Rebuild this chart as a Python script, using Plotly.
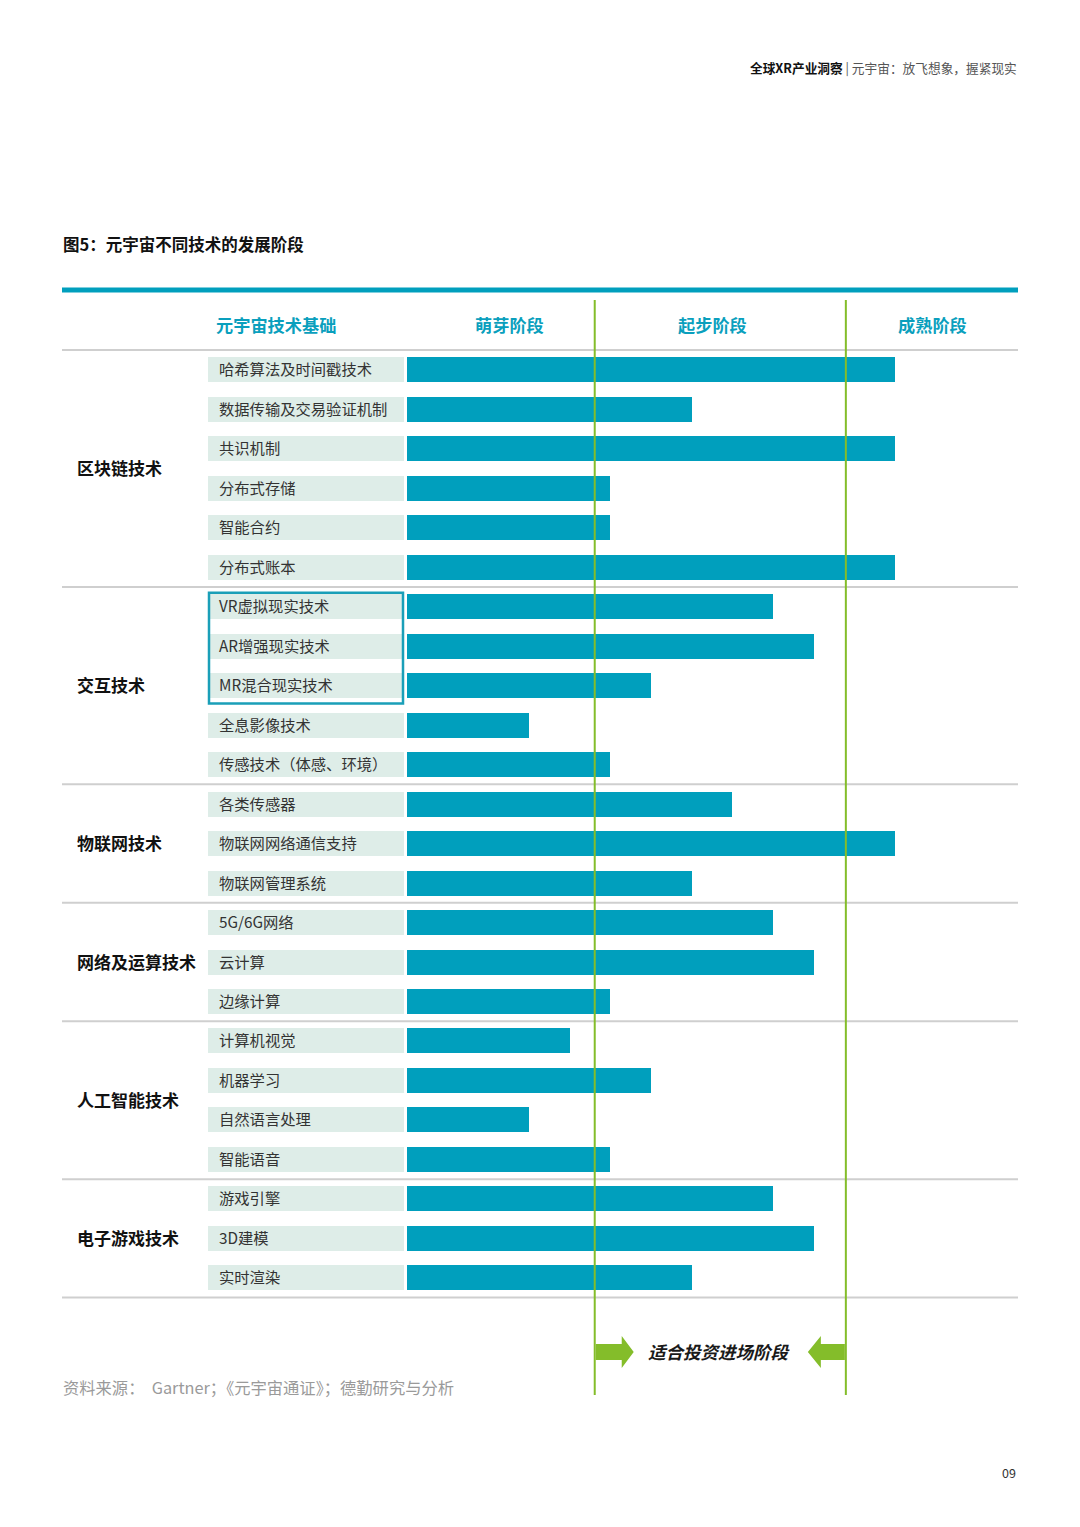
import plotly.graph_objects as go

# ---------------- data ----------------
groups = ["区块链技术", "交互技术", "物联网技术", "网络及运算技术", "人工智能技术", "电子游戏技术"]
group_sizes = [6, 5, 3, 3, 4, 3]
techs = [
    "哈希算法及时间戳技术", "数据传输及交易验证机制", "共识机制", "分布式存储", "智能合约", "分布式账本",
    "VR虚拟现实技术", "AR增强现实技术", "MR混合现实技术", "全息影像技术", "传感技术（体感、环境）",
    "各类传感器", "物联网网络通信支持", "物联网管理系统",
    "5G/6G网络", "云计算", "边缘计算",
    "计算机视觉", "机器学习", "自然语言处理", "智能语音",
    "游戏引擎", "3D建模", "实时渲染",
]
levels = [12, 7, 12, 5, 5, 12,
          9, 10, 6, 3, 5,
          8, 12, 7,
          9, 10, 5,
          4, 6, 3, 5,
          9, 10, 7]
stage_names = ["萌芽阶段", "起步阶段", "成熟阶段"]
stage_bounds = [4.62, 10.79]
boxed = [6, 7, 8]  # VR / AR / MR

# ---------------- geometry helpers (pixel -> axis units) ----------------
W, H = 1080, 1527
X0, UX = 406.7, 40.7     # bar origin px, px per unit
Y0, UY = 369.8, 39.48    # first row centre px, px per row


def dx(px):
    return (px - X0) / UX


def dy(py):
    return (py - Y0) / UY


TEAL = "#009fbd"
BG = "#deede8"
GREEN = "#84bd2a"
FONT = "Noto Sans CJK SC"

rows = list(range(len(techs)))

fig = go.Figure()
# label backgrounds
fig.add_trace(go.Bar(
    orientation="h", y=rows, x=[dx(404) - dx(208)] * len(rows), base=dx(208),
    width=0.633, marker=dict(color=BG, line=dict(width=0)), hoverinfo="skip", showlegend=False))
# stage bars
fig.add_trace(go.Bar(
    orientation="h", y=rows, x=levels, base=0,
    width=0.633, marker=dict(color=TEAL, line=dict(width=0)), showlegend=False))

shapes = []
annotations = []

# top teal rule
shapes.append(dict(type="line", xref="x", yref="y", x0=dx(62), x1=dx(1018), y0=dy(290), y1=dy(290),
                   line=dict(color=TEAL, width=5)))
# grey separators
seps = [-0.5]
acc = 0
for s in group_sizes:
    acc += s
    seps.append(acc - 0.5)
for s in seps:
    shapes.append(dict(type="line", xref="x", yref="y", x0=dx(62), x1=dx(1018), y0=s, y1=s,
                       line=dict(color="#cfcfcf", width=2)))

# VR/AR/MR box
shapes.append(dict(type="rect", xref="x", yref="y", x0=dx(209), x1=dx(403),
                   y0=boxed[0] - 0.35, y1=boxed[-1] + 0.45,
                   line=dict(color="#1a9fb8", width=2.5), fillcolor="rgba(0,0,0,0)"))

# green stage boundary lines
for b in stage_bounds:
    shapes.append(dict(type="line", xref="x", yref="y", x0=b, x1=b, y0=dy(300), y1=dy(1395),
                       line=dict(color=GREEN, width=2), layer="above"))

# arrows
ay = 1352
b1, b2 = stage_bounds
lx = X0 + b1 * UX
rx = X0 + b2 * UX


def pth(pts):
    return "M " + " L ".join(f"{dx(px):.4f},{dy(py):.4f}" for px, py in pts) + " Z"


right_arrow = [(lx + 1, ay - 8), (lx + 27, ay - 8), (lx + 27, ay - 16), (lx + 39, ay),
               (lx + 27, ay + 16), (lx + 27, ay + 8), (lx + 1, ay + 8)]
left_arrow = [(rx - 1, ay - 8), (rx - 25, ay - 8), (rx - 25, ay - 16), (rx - 38, ay),
              (rx - 25, ay + 16), (rx - 25, ay + 8), (rx - 1, ay + 8)]
for a in (right_arrow, left_arrow):
    shapes.append(dict(type="path", xref="x", yref="y", path=pth(a),
                       fillcolor=GREEN, line=dict(width=0)))

# row labels
for i, t in enumerate(techs):
    annotations.append(dict(x=dx(216.5), y=i, xref="x", yref="y", text=t, showarrow=False,
                            xanchor="left", yanchor="middle", yshift=1.5,
                            font=dict(family=FONT, size=15.3, color="#333333")))
# group labels
start = 0
for g, s in zip(groups, group_sizes):
    annotations.append(dict(x=dx(75), y=start + (s - 1) / 2, xref="x", yref="y", text=f"<b>{g}</b>",
                            showarrow=False, xanchor="left", yanchor="middle", yshift=1,
                            font=dict(family=FONT, size=17, color="#111111")))
    start += s

# header row
head_y = dy(325)
annotations.append(dict(x=dx(276), y=head_y, xref="x", yref="y", text="<b>元宇宙技术基础</b>", yshift=1,
                        showarrow=False, font=dict(family=FONT, size=17.2, color="#0a9fbd")))
for name, px in zip(stage_names, [509, 712, 932]):
    annotations.append(dict(x=dx(px), y=head_y, xref="x", yref="y", text=f"<b>{name}</b>", yshift=1,
                            showarrow=False, font=dict(family=FONT, size=17.2, color="#0a9fbd")))

# arrow text
annotations.append(dict(x=dx(719), y=dy(ay), xref="x", yref="y", text="<b><i>适合投资进场阶段</i></b>",
                        showarrow=False, yshift=1, font=dict(family=FONT, size=17.5, color="#1a1a1a")))

# title
annotations.append(dict(x=dx(61), y=dy(245), xref="x", yref="y", text="<b>图5：元宇宙不同技术的发展阶段</b>",
                        showarrow=False, xanchor="left", yshift=1,
                        font=dict(family=FONT, size=16.5, color="#111111")))
# page header
annotations.append(dict(x=dx(1019), y=dy(68), xref="x", yref="y",
                        text="<b>全球XR产业洞察</b><span style='color:#555'> | 元宇宙：放飞想象，握紧现实</span>",
                        showarrow=False, xanchor="right", yshift=1,
                        font=dict(family=FONT, size=12.7, color="#111111")))
# source
annotations.append(dict(x=dx(61), y=dy(1388), xref="x", yref="y",
                        text="资料来源：  Gartner；《元宇宙通证》；德勤研究与分析",
                        showarrow=False, xanchor="left", yshift=1,
                        font=dict(family=FONT, size=16.3, color="#9a9a9a")))
# page number
annotations.append(dict(x=dx(1018), y=dy(1472), xref="x", yref="y", text="09",
                        showarrow=False, xanchor="right", font=dict(family=FONT, size=12.5, color="#333333")))

fig.update_layout(
    width=W, height=H, margin=dict(l=0, r=0, t=0, b=0),
    paper_bgcolor="white", plot_bgcolor="white",
    barmode="overlay", bargap=0,
    xaxis=dict(range=[dx(0), dx(W)], domain=[0, 1], visible=False, fixedrange=True),
    yaxis=dict(range=[dy(H), dy(0)], domain=[0, 1], visible=False, fixedrange=True),
    shapes=shapes, annotations=annotations,
)

fig.write_html("out.html", config={"displayModeBar": False},
               post_script="document.body.style.margin='0';document.body.style.overflow='hidden';")
